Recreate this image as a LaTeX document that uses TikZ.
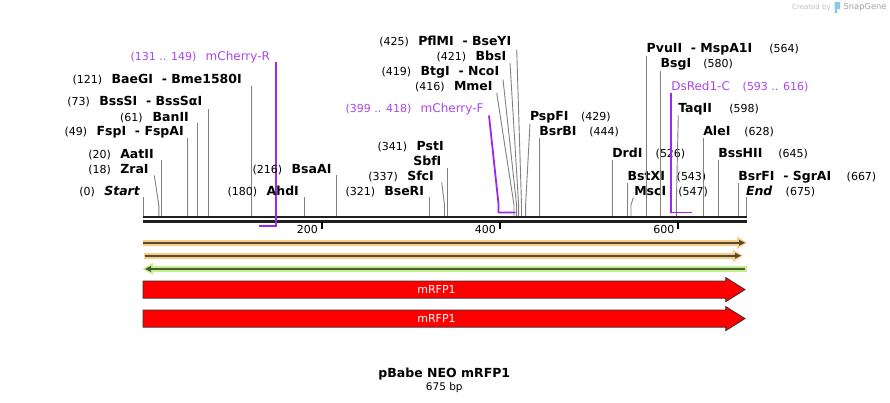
\documentclass[tikz,border=0pt]{standalone}
\usepackage{fontspec}
\setmainfont{DejaVu Sans}
\usetikzlibrary{arrows.meta}
\definecolor{siteg}{RGB}{128,128,128}
\definecolor{primln}{RGB}{155,40,240}
\definecolor{primtx}{RGB}{170,70,235}
\definecolor{orL}{RGB}{252,205,128}
\definecolor{grL}{RGB}{196,240,140}
\definecolor{darkln}{RGB}{80,74,64}
\definecolor{featred}{RGB}{255,0,0}
\definecolor{outl}{RGB}{50,50,50}
\definecolor{wmgray}{RGB}{190,190,190}
\definecolor{wmblue}{RGB}{140,200,235}
\newcommand\nm[1]{{\fontsize{12.5}{14}\selectfont\bfseries #1}}
\newcommand\nb[1]{{\fontsize{11}{13}\selectfont #1}}
\newcommand\lb[3]{\makebox[0pt][l]{\hspace*{#1pt}\nb{#2}}\nm{#3}}
\newcommand\pl[3]{\makebox[0pt][l]{\hspace*{#1pt}\nb{#2}}{\fontsize{12}{14}\selectfont #3}}
\newcommand\vsite[3]{\coordinate (#1t) at (#2,#3); \coordinate (#1b) at (#2,215.8); \draw[siteln] (#1t) -- (#1b);}
\newcommand\bsite[4]{\coordinate (#1t) at (#2,#3); \coordinate (#1k) at (#4,205); \coordinate (#1b) at (#4,215.8); \draw[siteln] (#1t) -- (#1k) -- (#1b);}
\begin{document}
\begin{tikzpicture}[x=1pt,y=-1pt,
  lab/.style={anchor=base west,inner sep=0pt,outer sep=0pt},
  plab/.style={lab,text=primtx},
  siteln/.style={draw=siteg,line width=0.9pt},
  primer/.style={draw=primln,line width=1.8pt},
  bbone/.style={line width=2.3pt,draw=black!88},
  tick/.style={line width=2pt,draw=black},
  ticklab/.style={anchor=east,inner sep=0pt,font=\fontsize{11}{13}\selectfont},
  redarrow/.style={fill=featred,draw=outl,line width=0.8pt},
  ftext/.style={text=white,inner sep=0pt,font=\fontsize{11}{13}\selectfont}]
\path[use as bounding box] (0,0) rectangle (890,403);

% ---------- watermark ----------
\node[anchor=west,inner sep=0pt,text=wmgray,font=\fontsize{7}{9}\selectfont] (wm1) at (792,7.5) {Created by};
\fill[wmblue] (834.5,2) -- (840,2) -- (840,9) -- (837,9) -- (837,13) -- (834.5,13) -- cycle;
\node[anchor=west,inner sep=0pt,text=wmgray!85!black,font=\fontsize{8.3}{10}\selectfont] (wm2) at (843.5,7.5) {SnapGene};

% ---------- backbone ----------
\coordinate (bbl1) at (143,217.2); \coordinate (bbr1) at (747,217.2);
\coordinate (bbl2) at (143,221.6); \coordinate (bbr2) at (747,221.6);
\draw[bbone] (bbl1) -- (bbr1);
\draw[bbone] (bbl2) -- (bbr2);

% ticks
\coordinate (t200a) at (321.5,222); \coordinate (t200b) at (321.5,229);
\coordinate (t400a) at (499.5,222); \coordinate (t400b) at (499.5,229);
\coordinate (t600a) at (678,222); \coordinate (t600b) at (678,229);
\draw[tick] (t200a) -- (t200b); \draw[tick] (t400a) -- (t400b); \draw[tick] (t600a) -- (t600b);
\node[ticklab] (l200) at (318,229.5) {200};
\node[ticklab] (l400) at (496,229.5) {400};
\node[ticklab] (l600) at (674.5,229.5) {600};

% ---------- left cluster ----------
\node[lab] (start) at (104.3,196) {\lb{-25}{(0)}{\itshape Start}};
\vsite{start}{143}{197}
\node[lab] (zrai) at (120.3,173.3) {\lb{-32}{(18)}{ZraI}};
\bsite{zrai}{154.3}{175.5}{158.8}
\node[lab] (aatii) at (120.3,158.3) {\lb{-32}{(20)}{AatII}};
\vsite{aatii}{161.3}{160}
\node[lab] (fspi) at (96.7,136) {\lb{-32}{(49)}{FspI\ \ - FspAI}};
\vsite{fspi}{187.7}{138}
\node[lab] (banii) at (152.7,121.3) {\lb{-32.7}{(61)}{BanII}};
\vsite{banii}{197.3}{123}
\node[lab] (bsssi) at (99.3,106) {\lb{-32}{(73)}{BssSI\ \ - BssSαI}};
\vsite{bsssi}{208.3}{109}
\node[lab] (baegi) at (111.7,83.3) {\lb{-39}{(121)}{BaeGI\ \ - Bme1580I}};
\vsite{baegi}{251.3}{86}
\node[plab] (mchr) at (205.7,60.7) {\pl{-75}{(131 .. 149)}{mCherry-R}};
\coordinate (mchrt) at (276.2,62.5); \coordinate (mchrk) at (276.2,225.8); \coordinate (mchre) at (259,225.8);
\draw[primer] (mchrt) -- (mchrk) -- (mchre);
\node[lab] (ahdi) at (266.7,196) {\lb{-39}{(180)}{AhdI}};
\vsite{ahdi}{304.7}{197}
\node[lab] (bsaai) at (291.7,173.3) {\lb{-39}{(216)}{BsaAI}};
\vsite{bsaai}{336.7}{175}

% ---------- middle cluster ----------
\node[lab] (bseri) at (384.3,196) {\lb{-38.6}{(321)}{BseRI}};
\vsite{bseri}{429.3}{197}
\node[lab] (sfci) at (407.3,181) {\lb{-39}{(337)}{SfcI}};
\bsite{sfci}{441.7}{182.5}{444.5}
\node[lab] (sbfi) at (413.3,166) {\nm{SbfI}};
\vsite{sbfi}{447.3}{168}
\node[lab] (psti) at (416.7,151) {\lb{-39}{(341)}{PstI}};
\node[plab] (mchf) at (420.7,112.7) {\pl{-75}{(399 .. 418)}{mCherry-F}};
\coordinate (mchft) at (489,115.5); \coordinate (mchfk) at (498.5,204); \coordinate (mchfb) at (498.5,212.6); \coordinate (mchfe) at (515.5,212.6);
\draw[primer,line join=round] (mchft) -- (mchfk) -- (mchfb) -- (mchfe);
\node[lab] (mmei) at (454,91) {\lb{-39}{(416)}{MmeI}};
\bsite{mmei}{496.7}{93}{514}
\node[lab] (btgi) at (420.7,76) {\lb{-39}{(419)}{BtgI\ \ - NcoI}};
\bsite{btgi}{503}{79.5}{516.6}
\node[lab] (bbsi) at (475.7,60.7) {\lb{-39}{(421)}{BbsI}};
\bsite{bbsi}{510}{63}{518.6}
\node[lab] (pflmi) at (418.3,46) {\lb{-39}{(425)}{PflMI\ \ - BseYI}};
\bsite{pflmi}{516.7}{49.5}{521.5}
\node[lab] (pspfi) at (530,120.5) {\lb{51}{(429)}{PspFI}};
\bsite{pspfi}{530}{123.5}{525.6}
\node[lab] (bsrbi) at (539.3,135.5) {\lb{50}{(444)}{BsrBI}};
\vsite{bsrbi}{539.3}{138}

% ---------- right cluster ----------
\node[lab] (drdi) at (612.3,157.7) {\lb{43.4}{(526)}{DrdI}};
\vsite{drdi}{612.7}{160}
\node[lab] (bstxi) at (627.7,180.7) {\lb{49}{(543)}{BstXI}};
\vsite{bstxi}{627.7}{183}
\node[lab] (msci) at (634.3,195.7) {\lb{44}{(547)}{MscI}};
\bsite{msci}{633.3}{197.5}{631}
\node[lab] (pvuii) at (646.7,52.7) {\lb{122.6}{(564)}{PvuII\ \ - MspA1I}};
\vsite{pvuii}{646.3}{56}
\node[lab] (bsgi) at (660.7,67.7) {\lb{42.6}{(580)}{BsgI}};
\vsite{bsgi}{660.3}{71}
\node[lab] (taqii) at (678.3,112.7) {\lb{51}{(598)}{TaqII}};
\bsite{taqii}{678.3}{115.5}{676.3}
\node[plab] (dsred) at (671.3,91) {\pl{71.4}{(593 .. 616)}{DsRed1-C}};
\coordinate (dsredt) at (671.3,93.5); \coordinate (dsredk) at (671.3,212.6); \coordinate (dsrede) at (692,212.6);
\draw[primer] (dsredt) -- (dsredk) -- (dsrede);
\node[lab] (alei) at (703.3,136) {\lb{41}{(628)}{AleI}};
\vsite{alei}{703.7}{138}
\node[lab] (bsshii) at (718.3,157.7) {\lb{60}{(645)}{BssHII}};
\vsite{bsshii}{718.3}{160}
\node[lab] (bsrfi) at (738.3,180.7) {\lb{108.4}{(667)}{BsrFI\ \ - SgrAI}};
\vsite{bsrfi}{738.7}{183}
\node[lab] (endl) at (746,195.7) {\lb{39.7}{(675)}{\itshape End}};
\vsite{endl}{746.3}{197}

% ---------- features ----------
\coordinate (o1a) at (143,242.8); \coordinate (o1b) at (739,242.8);
\fill[orL] (143,240) rectangle (739,245.6);
\fill[orL] (737,236.6) -- (747,242.8) -- (737,249) -- cycle;
\draw[darkln,line width=1.8pt] (o1a) -- (o1b);
\fill[darkln] (739,239.8) -- (745,242.8) -- (739,245.8) -- cycle;

\coordinate (o2a) at (144.5,255.7); \coordinate (o2b) at (735,255.7);
\fill[orL] (143.5,252.9) rectangle (735,258.5);
\fill[orL] (733,249.6) -- (743,255.7) -- (733,261.8) -- cycle;
\draw[darkln,line width=1.8pt] (o2a) -- (o2b);
\fill[darkln] (735,252.7) -- (741,255.7) -- (735,258.7) -- cycle;

\coordinate (g1a) at (149,268.9); \coordinate (g1b) at (745,268.9);
\fill[grL] (151,266.1) rectangle (746.8,271.7);
\fill[grL] (153,262.8) -- (142.5,268.9) -- (153,275) -- cycle;
\draw[darkln!90!green,line width=1.8pt] (g1a) -- (g1b);
\fill[darkln!90!green] (151,265.9) -- (145,268.9) -- (151,271.9) -- cycle;

\draw[redarrow] (143,281) -- (725.7,281) -- (725.7,277.5) -- (745,289.6) -- (725.7,301.7) -- (725.7,298.2) -- (143,298.2) -- cycle;
\node[ftext] (f1) at (436.5,289.6) {mRFP1};
\draw[redarrow] (143,310) -- (725.7,310) -- (725.7,306.5) -- (745,318.6) -- (725.7,330.7) -- (725.7,327.2) -- (143,327.2) -- cycle;
\node[ftext] (f2) at (436.5,318.6) {mRFP1};

% ---------- title ----------
\node[anchor=base,inner sep=0pt,font=\fontsize{12.5}{15}\selectfont\bfseries] (title) at (444.3,377) {pBabe NEO mRFP1};
\node[anchor=base,inner sep=0pt,font=\fontsize{10.5}{12}\selectfont] (len) at (444.3,390) {675 bp};
\end{tikzpicture}
\end{document}
